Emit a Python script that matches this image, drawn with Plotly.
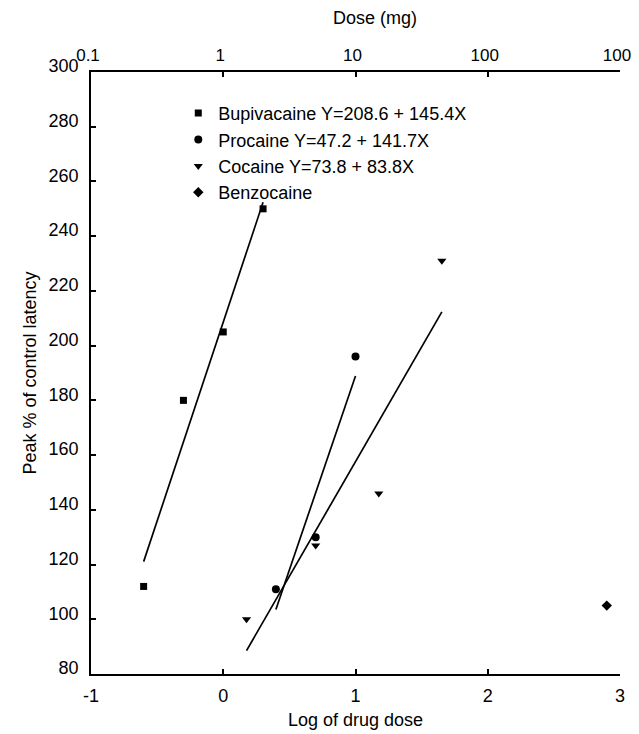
import numpy as np
import plotly.graph_objects as go

# ---- data (log10 of dose in mg, peak % of control latency) ----
bupi_x = [-0.602, -0.301, 0.0, 0.301]
bupi_y = [112, 180, 205, 250]
proc_x = [0.398, 0.699, 1.0]
proc_y = [111, 130, 196]
coc_x = [0.176, 0.699, 1.176, 1.653]
coc_y = [100, 127, 146, 231]
benz_x = [2.90]
benz_y = [105]

# regression coefficients shown in the legend (intercept, slope)
bupi_fit = (208.6, 145.4)
proc_fit = (47.2, 141.7)
coc_fit = (73.8, 83.8)

names = ["Bupivacaine Y=208.6 + 145.4X",
         "Procaine Y=47.2 + 141.7X",
         "Cocaine Y=73.8 + 83.8X",
         "Benzocaine"]

x_ticks = [-1, 0, 1, 2, 3]
x_ticktext = ["-1", "0", "1", "2", "3"]
top_ticktext = ["0.1", "1", "10", "100", "100"]
y_ticks = list(range(80, 301, 20))

FONT = "Liberation Sans, Arial, Helvetica, sans-serif"
FS = 18

fig = go.Figure()

def fit_line(xs, fit):
    xx = np.array([min(xs), max(xs)])
    return xx, fit[0] + fit[1] * xx

for xs, fit in [(bupi_x, bupi_fit), (proc_x, proc_fit), (coc_x, coc_fit)]:
    lx, ly = fit_line(xs, fit)
    fig.add_trace(go.Scatter(x=lx, y=ly, mode="lines",
                             line=dict(color="black", width=1.7),
                             showlegend=False, hoverinfo="skip"))

series = [(bupi_x, bupi_y, "square", 7),
          (proc_x, proc_y, "circle", 8),
          (coc_x, coc_y, "triangle-down", 8),
          (benz_x, benz_y, "diamond", 8)]
for (xs, ys, sym, sz), nm in zip(series, names):
    fig.add_trace(go.Scatter(x=xs, y=ys, mode="markers", name=nm,
                             marker=dict(symbol=sym, size=sz, color="black",
                                         line=dict(width=0))))

# invisible trace for top axis
fig.add_trace(go.Scatter(x=[-1, 3], y=[80, 80], xaxis="x2", mode="markers",
                         marker=dict(opacity=0), showlegend=False,
                         hoverinfo="skip"))

axis_common = dict(showline=True, linecolor="black", linewidth=1.8,
                   ticks="inside", ticklen=5, tickwidth=1.5, tickcolor="black",
                   showgrid=False, zeroline=False, automargin=False)
tick_font = dict(family=FONT, size=FS, color="black")

# the page body adds an 8px offset, so the figure is 8px smaller
fig.update_layout(
    width=631, height=726,
    margin=dict(l=83, r=19, t=64, b=60, autoexpand=False),
    paper_bgcolor="white", plot_bgcolor="white",
    font=dict(family=FONT, size=FS, color="black"),
    xaxis=dict(range=[-1, 3], tickvals=x_ticks, ticktext=x_ticktext,
               ticklabelstandoff=4, tickfont=tick_font,
               title=dict(text="Log of drug dose", standoff=9,
                          font=dict(family=FONT, size=FS)),
               **axis_common),
    xaxis2=dict(range=[-1, 3], overlaying="x", side="top", anchor="y",
                tickvals=x_ticks, ticktext=top_ticktext,
                ticklabelstandoff=2, ticklabelshift=-3,
                tickfont=dict(family=FONT, size=17, color="black"),
                ticklabeloverflow="allow", **axis_common),
    yaxis=dict(range=[80, 300], tickvals=y_ticks,
               ticklabelstandoff=7, ticklabelshift=-6, tickfont=tick_font,
               title=dict(text="Peak % of control latency", standoff=7,
                          font=dict(family=FONT, size=FS)),
               **axis_common),
    legend=dict(x=0.165, y=0.962, xanchor="left", yanchor="top",
                bgcolor="rgba(0,0,0,0)", borderwidth=0,
                font=dict(family=FONT, size=18, color="black")),
    annotations=[dict(text="Dose (mg)", x=0.537, y=1.0897, xref="paper",
                      yref="paper", showarrow=False, xanchor="center",
                      yanchor="middle", font=dict(family=FONT, size=FS))],
)

fig.write_html("out.html")
